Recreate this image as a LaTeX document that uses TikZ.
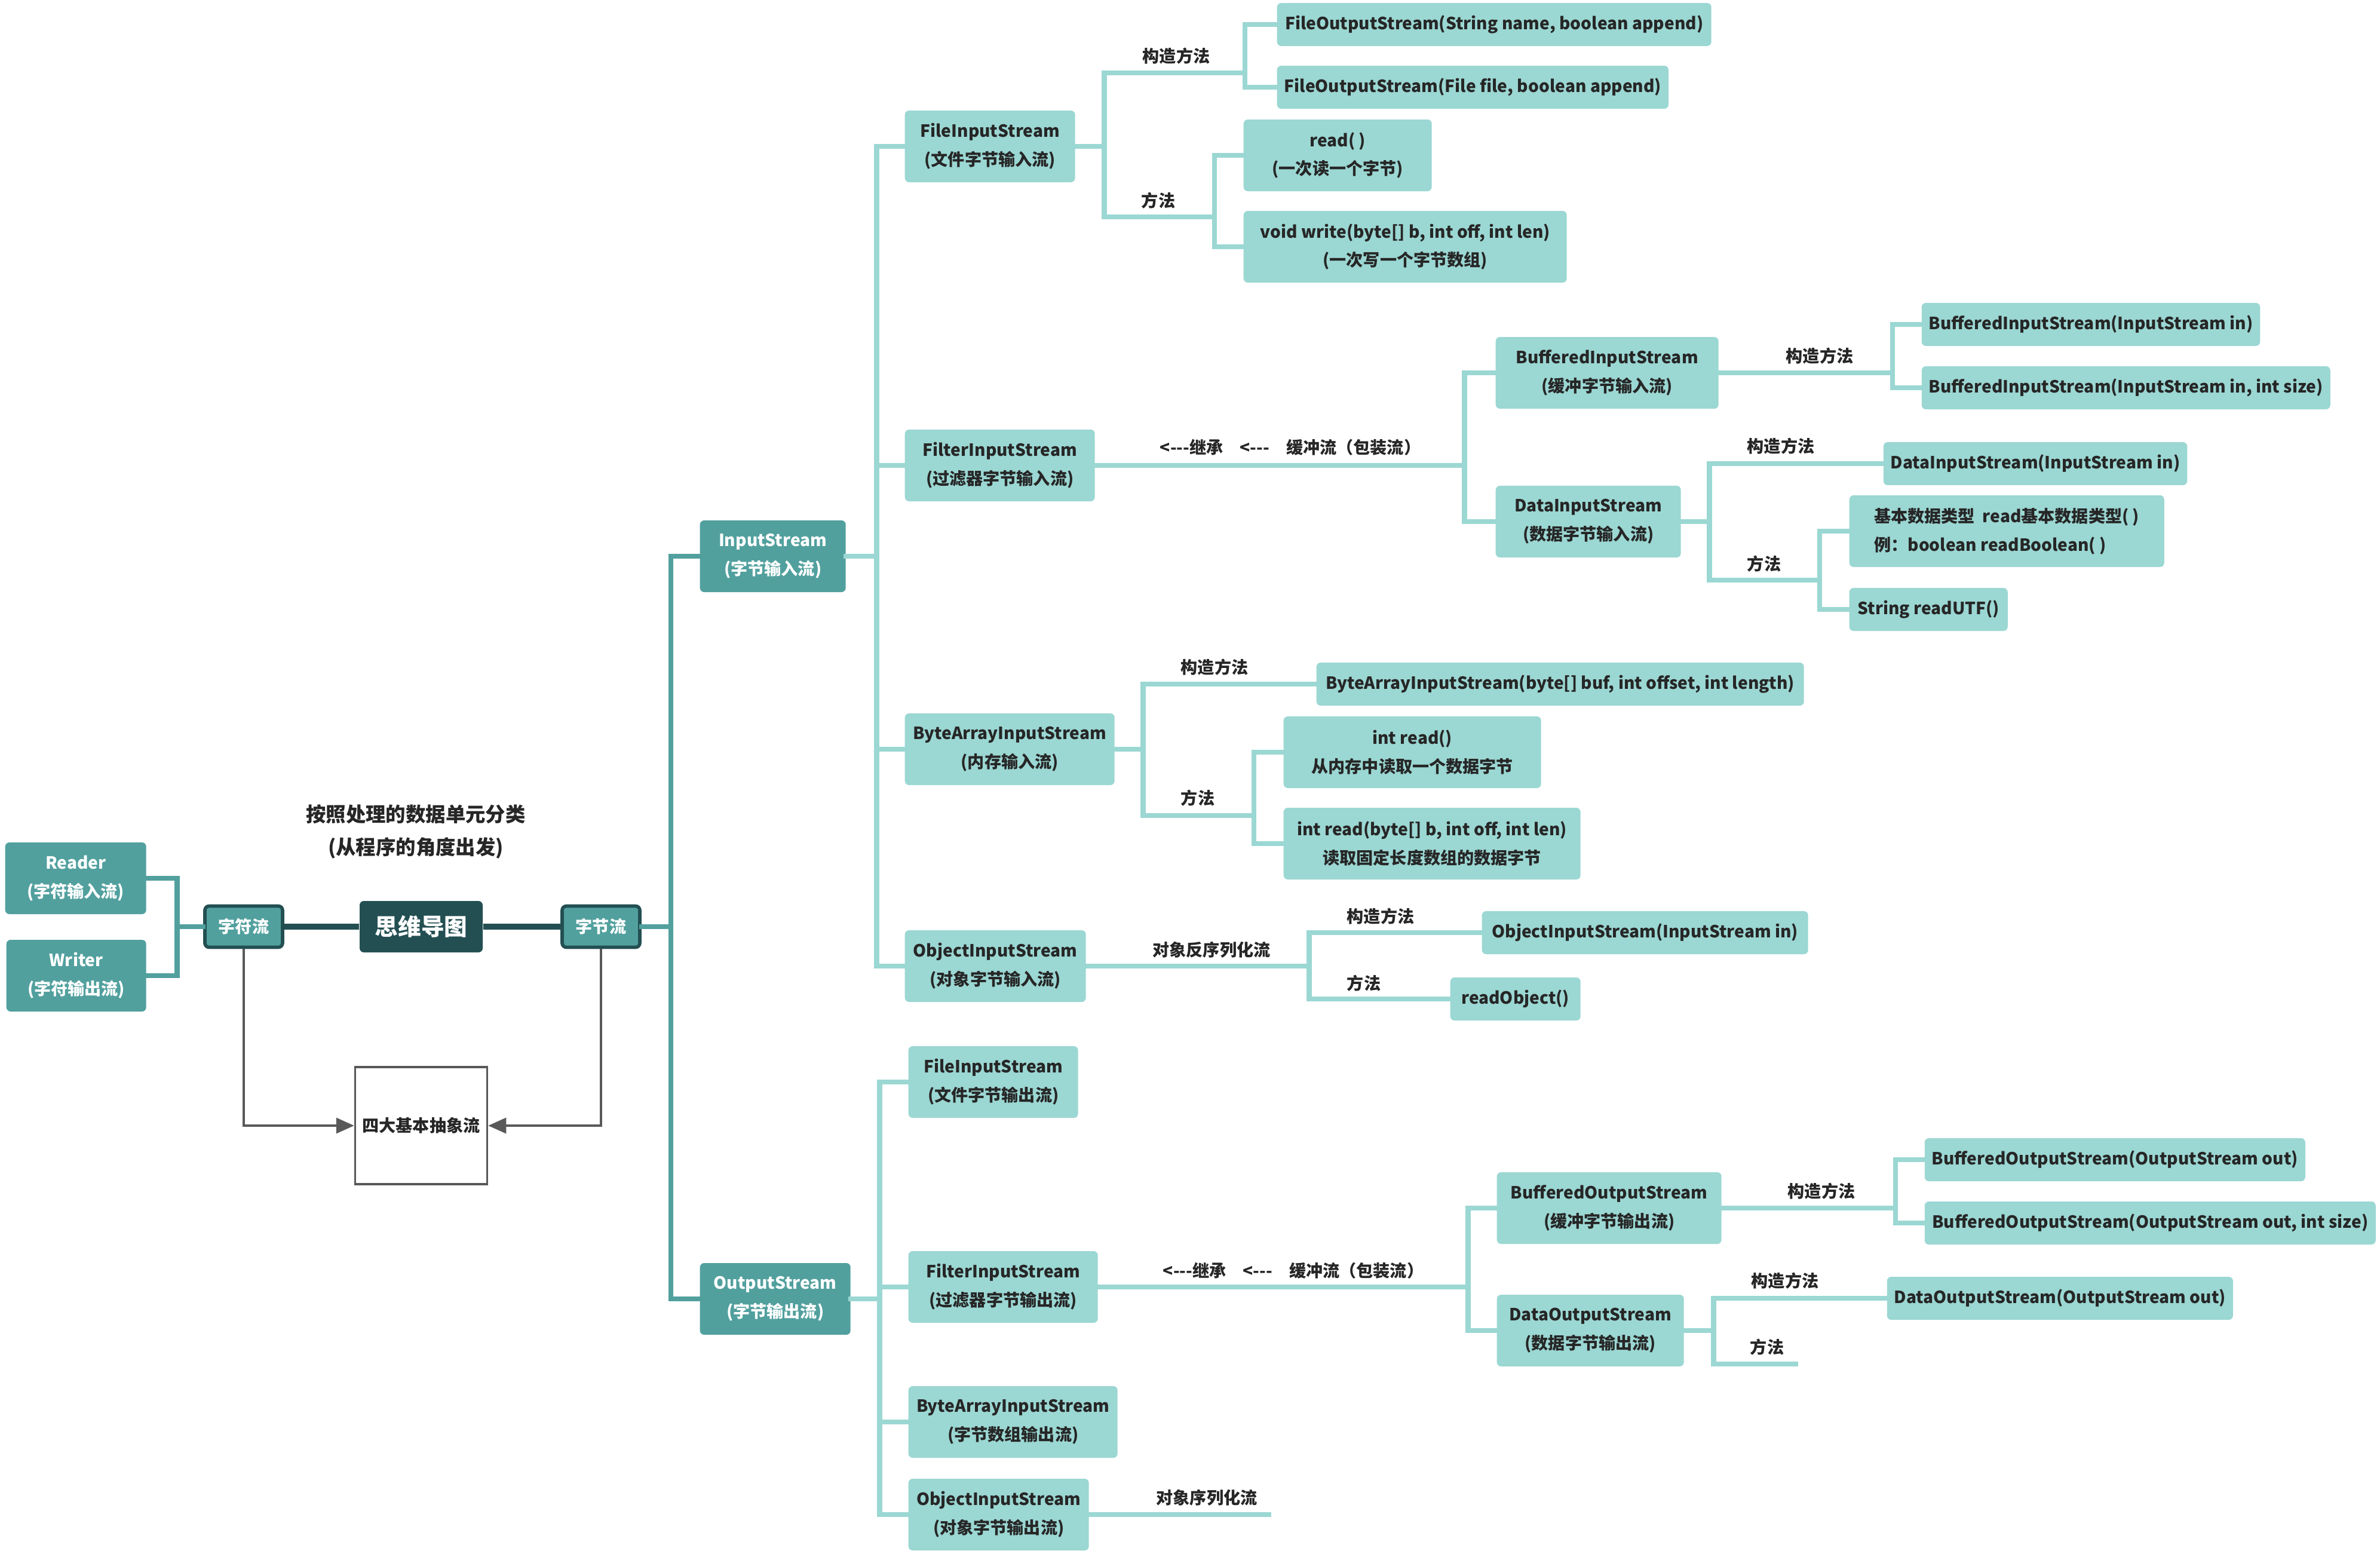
\documentclass[tikz,border=0pt]{standalone}
\usepackage{fontspec}
\setmainfont{Noto Sans CJK SC}
\usepackage{tikz}
\usetikzlibrary{positioning,arrows.meta}
\definecolor{tealD}{HTML}{51A09E}
\definecolor{tealL}{HTML}{9BD7D3}
\definecolor{coreC}{HTML}{234F52}
\definecolor{inkC}{HTML}{262626}
\definecolor{arrC}{HTML}{595959}

\begin{document}
\begin{tikzpicture}[
			font=\bfseries\fontsize{8}{13.6}\selectfont,
			base/.style={rounded corners=2pt, align=center, inner xsep=0.12cm, text=inkC},
			root/.style={base, fill=tealD, text=white, minimum height=1.2cm, anchor=west},
			stem/.style={base, fill=tealD, text=white, draw=coreC, line width=1.6pt,
				minimum width=1.3cm, minimum height=0.69cm},
			core/.style={base, fill=coreC, text=white, minimum width=2.06cm, minimum height=0.86cm,
				font=\bfseries\fontsize{11}{13}\selectfont},
			sub/.style={base, fill=tealL, minimum height=1.2cm, anchor=west},
			leaf/.style={base, fill=tealL, minimum height=0.72cm, anchor=west},
			lbl/.style={text=inkC},
			elbow/.style={to path={-- ++(#1,0) |- (\tikztotarget)}},
			lnkD/.style={draw=tealD, line width=2.4pt, line cap=rect},
			lnk/.style={draw=tealL, line width=2.4pt, line cap=rect},
			arr/.style={draw=arrC, line width=1pt, -{Triangle[length=0.3cm,width=0.26cm]}}
			]
			\useasboundingbox (0,0) rectangle (39.84,-26);
			
			\node[root, minimum width=2.36cm] (reader) at (0.08,-14.70) {Reader\\(字符输入流)};
			\node[root, minimum width=2.34cm] (writer) at (0.10,-16.33) {Writer\\(字符输出流)};
			\node[stem] (zifu) at (4.08,-15.51) {字符流};
			\node[core] (mind) at (7.05,-15.51) {思维导图};
			\node[stem] (zijie) at (10.06,-15.51) {字节流};
			\node[lbl, align=center, font=\bfseries\fontsize{9.5}{15.6}\selectfont] (title) at (6.96,-13.92)
				{按照处理的数据单元分类\\(从程序的角度出发)};
			\node[draw=arrC, line width=1pt, fill=white, text=inkC, minimum width=2.21cm,
				minimum height=1.96cm] (abs) at (7.05,-18.84) {四大基本抽象流};
			
			\node[root, minimum width=2.44cm] (instream) at (11.71,-9.31) {InputStream\\(字节输入流)};
			\node[root, minimum width=2.52cm] (outstream) at (11.71,-21.74) {OutputStream\\(字节输出流)};
			
			\node[sub, minimum width=2.85cm] (fis) at (15.14,-2.45) {FileInputStream\\(文件字节输入流)};
			\node[sub, minimum width=3.18cm] (filt) at (15.14,-7.79) {FilterInputStream\\(过滤器字节输入流)};
			\node[sub, minimum width=3.51cm] (bais) at (15.14,-12.54) {ByteArrayInputStream\\(内存输入流)};
			\node[sub, minimum width=3.03cm] (ois) at (15.14,-16.17) {ObjectInputStream\\(对象字节输入流)};
			
			\node[sub, minimum width=2.84cm] (fos) at (15.20,-18.11) {FileInputStream\\(文件字节输出流)};
			\node[sub, minimum width=3.17cm] (filtO) at (15.20,-21.54) {FilterInputStream\\(过滤器字节输出流)};
			\node[sub, minimum width=3.50cm] (baos) at (15.20,-23.80) {ByteArrayInputStream\\(字节数组输出流)};
			\node[sub, minimum width=3.02cm] (oos) at (15.20,-25.35) {ObjectInputStream\\(对象字节输出流)};
			
			\node[leaf, minimum width=7.27cm] (fisC1) at (21.37,-0.41) {FileOutputStream(String name, boolean append)};
			\node[leaf, minimum width=6.53cm] (fisC2) at (21.37,-1.46) {FileOutputStream(File file, boolean append)};
			\node[sub, minimum width=3.15cm] (fisM1) at (20.81,-2.60) {read( )\\(一次读一个字节)};
			\node[sub, minimum width=5.41cm] (fisM2) at (20.81,-4.13) {void write(byte[] b, int off, int len)\\(一次写一个字节数组)};
			
			\node[sub, minimum width=3.73cm] (bis) at (25.03,-6.24) {BufferedInputStream\\(缓冲字节输入流)};
			\node[sub, minimum width=3.10cm] (dis) at (25.03,-8.73) {DataInputStream\\(数据字节输入流)};
			\node[leaf, minimum width=5.66cm] (bisC1) at (32.16,-5.43) {BufferedInputStream(InputStream in)};
			\node[leaf, minimum width=6.83cm] (bisC2) at (32.16,-6.49) {BufferedInputStream(InputStream in, int size)};
			\node[leaf, minimum width=5.07cm] (disC) at (31.52,-7.76) {DataInputStream(InputStream in)};
			\node[sub, minimum width=5.27cm, align=left] (disM1) at (30.95,-8.89) {基本数据类型\ \ read基本数据类型( )\\例：boolean readBoolean( )};
			\node[leaf, minimum width=2.65cm] (disM2) at (30.95,-10.20) {String readUTF()};
			
			\node[leaf, minimum width=8.16cm] (baisC) at (22.03,-11.45) {ByteArrayInputStream(byte[] buf, int offset, int length)};
			\node[sub, minimum width=4.31cm] (baisM1) at (21.48,-12.59) {int read()\\从内存中读取一个数据字节};
			\node[sub, minimum width=4.97cm] (baisM2) at (21.48,-14.12) {int read(byte[] b, int off, int len)\\读取固定长度数组的数据字节};
			
			\node[leaf, minimum width=5.46cm] (oisC) at (24.80,-15.61) {ObjectInputStream(InputStream in)};
			\node[leaf, minimum width=2.18cm] (oisM) at (24.27,-16.72) {readObject()};
			
			\node[sub, minimum width=3.76cm] (bos) at (25.05,-20.22) {BufferedOutputStream\\(缓冲字节输出流)};
			\node[sub, minimum width=3.13cm] (dos) at (25.05,-22.27) {DataOutputStream\\(数据字节输出流)};
			\node[leaf, minimum width=6.37cm] (bosC1) at (32.21,-19.41) {BufferedOutputStream(OutputStream out)};
			\node[leaf, minimum width=7.55cm] (bosC2) at (32.21,-20.47) {BufferedOutputStream(OutputStream out, int size)};
			\node[leaf, minimum width=5.78cm] (dosC) at (31.58,-21.73) {DataOutputStream(OutputStream out)};
			
			\coordinate (fisK) at (20.84,-1.22);
			\coordinate (fisM) at (20.33,-3.63);
			\coordinate (bisK) at (31.68,-6.24);
			\coordinate (disM) at (30.46,-9.71);
			\coordinate (baisM) at (20.99,-13.65);
			\coordinate (bosK) at (31.73,-20.22);
			\coordinate (dosM) at (30.06,-22.83);
			\coordinate (oosE) at (21.24,-25.35);
			
			\node[lbl] (fisKl) at (19.69,-0.94) {构造方法};
			\node[lbl] (fisMl) at (19.39,-3.36) {方法};
			\node[lbl] (filtl) at (21.60,-7.49) {<{-}{-}{-}继承\quad <{-}{-}{-}\quad 缓冲流（包装流）};
			\node[lbl] (bisKl) at (30.46,-5.96) {构造方法};
			\node[lbl] (disKl) at (29.81,-7.47) {构造方法};
			\node[lbl] (disMl) at (29.53,-9.44) {方法};
			\node[lbl] (baisKl) at (20.33,-11.17) {构造方法};
			\node[lbl] (baisMl) at (20.05,-13.36) {方法};
			\node[lbl] (oisl) at (20.28,-15.90) {对象反序列化流};
			\node[lbl] (oisKl) at (23.11,-15.34) {构造方法};
			\node[lbl] (oisMl) at (22.83,-16.46) {方法};
			\node[lbl] (filtOl) at (21.65,-21.27) {<{-}{-}{-}继承\quad <{-}{-}{-}\quad 缓冲流（包装流）};
			\node[lbl] (bosKl) at (30.49,-19.94) {构造方法};
			\node[lbl] (dosKl) at (29.88,-21.44) {构造方法};
			\node[lbl] (dosMl) at (29.58,-22.55) {方法};
			\node[lbl] (oosl) at (20.20,-25.07) {对象序列化流};
			
			\draw[lnkD] (reader.east) to[elbow=0.51] (zifu.west);
			\draw[lnkD] (writer.east) to[elbow=0.51] (zifu.west);
			\draw[coreC, line width=2.8pt] (zifu) -- (mind);
			\draw[coreC, line width=2.8pt] (mind) -- (zijie);
			\draw[lnkD] (zijie.east) to[elbow=0.49] (instream.west);
			\draw[lnkD] (zijie.east) to[elbow=0.49] (outstream.west);
			\draw[arr] (zifu.south) |- (abs.west);
			\draw[arr] (zijie.south) |- (abs.east);
			
			\foreach \t in {fis,filt,bais,ois}
				\draw[lnk] (instream.east) to[elbow=0.51] (\t.west);
			\foreach \t in {fos,filtO,baos,oos}
				\draw[lnk] (outstream.east) to[elbow=0.48] (\t.west);
			
			\draw[lnk] (fis.east) to[elbow=0.48] (fisK);
			\draw[lnk] (fis.east) to[elbow=0.48] (fisM);
			\draw[lnk] (fisK) to[elbow=0] (fisC1.west);
			\draw[lnk] (fisK) to[elbow=0] (fisC2.west);
			\draw[lnk] (fisM) to[elbow=0] (fisM1.west);
			\draw[lnk] (fisM) to[elbow=0] (fisM2.west);
			
			\draw[lnk] (filt.east) to[elbow=6.18] (bis.west);
			\draw[lnk] (filt.east) to[elbow=6.18] (dis.west);
			\draw[lnk] (bis.east) -- (bisK);
			\draw[lnk] (bisK) to[elbow=0] (bisC1.west);
			\draw[lnk] (bisK) to[elbow=0] (bisC2.west);
			\draw[lnk] (dis.east) to[elbow=0.47] (disC.west);
			\draw[lnk] (dis.east) to[elbow=0.47] (disM);
			\draw[lnk] (disM) to[elbow=0] (disM1.west);
			\draw[lnk] (disM) to[elbow=0] (disM2.west);
			
			\draw[lnk] (bais.east) to[elbow=0.47] (baisC.west);
			\draw[lnk] (bais.east) to[elbow=0.47] (baisM);
			\draw[lnk] (baisM) to[elbow=0] (baisM1.west);
			\draw[lnk] (baisM) to[elbow=0] (baisM2.west);
			
			\draw[lnk] (ois.east) to[elbow=3.73] (oisC.west);
			\draw[lnk] (ois.east) to[elbow=3.73] (oisM.west);
			
			\draw[lnk] (filtO.east) to[elbow=6.19] (bos.west);
			\draw[lnk] (filtO.east) to[elbow=6.19] (dos.west);
			\draw[lnk] (bos.east) -- (bosK);
			\draw[lnk] (bosK) to[elbow=0] (bosC1.west);
			\draw[lnk] (bosK) to[elbow=0] (bosC2.west);
			\draw[lnk] (dos.east) to[elbow=0.49] (dosC.west);
			\draw[lnk] (dos.east) to[elbow=0.49] (dosM);
			\draw[lnk] (oos.east) -- (oosE);
			
		\end{tikzpicture}
\end{document}
